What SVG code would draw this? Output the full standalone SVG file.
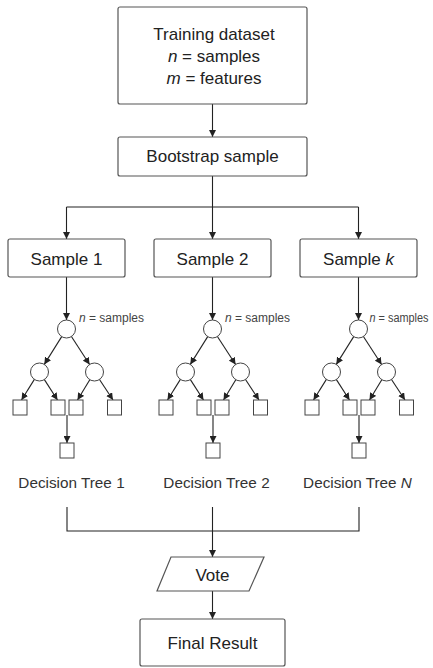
<svg xmlns="http://www.w3.org/2000/svg" width="433" height="668" viewBox="0 0 433 668">
<defs>
<style>
.box{fill:#fff;stroke:#555;stroke-width:1.2}
.shape{fill:#fff;stroke:#444;stroke-width:1}
.ln{fill:none;stroke:#222;stroke-width:1.1}
.arr{fill:none;stroke:#222;stroke-width:1.1;marker-end:url(#ah)}
.t{font-family:"Liberation Sans",Arial,sans-serif;font-size:17px;fill:#222;text-anchor:middle}
.lab{font-family:"Liberation Sans",Arial,sans-serif;font-size:15.3px;fill:#333;text-anchor:middle}
.sm{font-family:"Liberation Sans",Arial,sans-serif;font-size:12px;fill:#444}
</style>
<marker id="ah" viewBox="0 0 10 10" refX="10" refY="5" markerWidth="7" markerHeight="7" markerUnits="userSpaceOnUse" orient="auto">
<path d="M0,0 L10,5 L0,10 z" fill="#222"/>
</marker>
<g id="treeShape">
<circle class="shape" cx="0" cy="329" r="9"/>
<circle class="shape" cx="-27" cy="372" r="9"/>
<circle class="shape" cx="28" cy="372" r="9"/>
<rect class="shape" x="-53.5" y="400" width="14" height="15"/>
<rect class="shape" x="-15.5" y="400" width="14" height="15"/>
<rect class="shape" x="2.5" y="400" width="14" height="15"/>
<rect class="shape" x="41" y="400" width="14" height="15"/>
<rect class="shape" x="-6.5" y="443" width="14" height="15"/>
</g>
<g id="treeEdges">
<line class="arr" x1="0" y1="277" x2="0" y2="320"/>
<line class="arr" x1="-4.8" y1="336.6" x2="-22.2" y2="364.4"/>
<line class="arr" x1="4.9" y1="336.5" x2="23.1" y2="364.5"/>
<line class="arr" x1="-32.1" y1="379.4" x2="-45" y2="400"/>
<line class="arr" x1="-22.1" y1="379.6" x2="-9" y2="400"/>
<line class="arr" x1="23.3" y1="379.7" x2="11" y2="400"/>
<line class="arr" x1="33" y1="379.5" x2="46.5" y2="400"/>
<line class="arr" x1="0.5" y1="415" x2="0.5" y2="443"/>
</g>
</defs>

<g id="connectors">
<line class="arr" x1="212.5" y1="104" x2="212.5" y2="137"/>
<polyline class="ln" points="212.5,176 212.5,207"/>
<polyline class="ln" points="66.5,207 358.5,207"/>
<line class="arr" x1="66.5" y1="207" x2="66.5" y2="239"/>
<line class="arr" x1="212.5" y1="207" x2="212.5" y2="239"/>
<line class="arr" x1="358.5" y1="207" x2="358.5" y2="239"/>
<use href="#treeEdges" transform="translate(66.5,0)"/>
<use href="#treeEdges" transform="translate(212.5,0)"/>
<use href="#treeEdges" transform="translate(358.5,0)"/>
<polyline class="ln" points="67,507 67,531 359,531 359,507"/>
<line class="arr" x1="212.5" y1="507" x2="212.5" y2="557"/>
<line class="arr" x1="212.5" y1="591" x2="212.5" y2="619"/>
</g>

<g id="training">
<rect class="box" x="118" y="7" width="189" height="97" rx="2"/>
<text class="t" x="214" y="40">Training dataset</text>
<text class="t" x="214" y="62"><tspan font-style="italic">n</tspan> = samples</text>
<text class="t" x="214" y="84"><tspan font-style="italic">m</tspan> = features</text>
</g>

<g id="bootstrap">
<rect class="box" x="118" y="137" width="189" height="39" rx="2"/>
<text class="t" x="212.5" y="162">Bootstrap sample</text>
</g>

<g id="sample1">
<rect class="box" x="8" y="239" width="117" height="38" rx="2"/>
<text class="t" x="66.5" y="265">Sample 1</text>
</g>
<g id="sample2">
<rect class="box" x="154" y="239" width="117" height="38" rx="2"/>
<text class="t" x="212.5" y="265">Sample 2</text>
</g>
<g id="samplek">
<rect class="box" x="300" y="239" width="117" height="38" rx="2"/>
<text class="t" x="358.5" y="265">Sample <tspan font-style="italic">k</tspan></text>
</g>

<g id="tree1">
<use href="#treeShape" transform="translate(66.5,0)"/>
<text class="sm" x="79" y="322"><tspan font-style="italic">n</tspan> = samples</text>
<text class="lab" x="71.5" y="488">Decision Tree 1</text>
</g>
<g id="tree2">
<use href="#treeShape" transform="translate(212.5,0)"/>
<text class="sm" x="225" y="322"><tspan font-style="italic">n</tspan> = samples</text>
<text class="lab" x="216.5" y="488">Decision Tree 2</text>
</g>
<g id="treeN">
<use href="#treeShape" transform="translate(358.5,0)"/>
<text class="sm" x="369.5" y="322" textLength="59" lengthAdjust="spacingAndGlyphs"><tspan font-style="italic">n</tspan> = samples</text>
<text class="lab" x="357.5" y="488">Decision Tree <tspan font-style="italic">N</tspan></text>
</g>

<g id="vote">
<polygon class="box" points="171,557 264,557 249,591 157,591"/>
<text class="t" x="212.5" y="581">Vote</text>
</g>

<g id="final">
<rect class="box" x="140" y="619" width="145" height="47" rx="2"/>
<text class="t" x="212.5" y="649">Final Result</text>
</g>
</svg>
